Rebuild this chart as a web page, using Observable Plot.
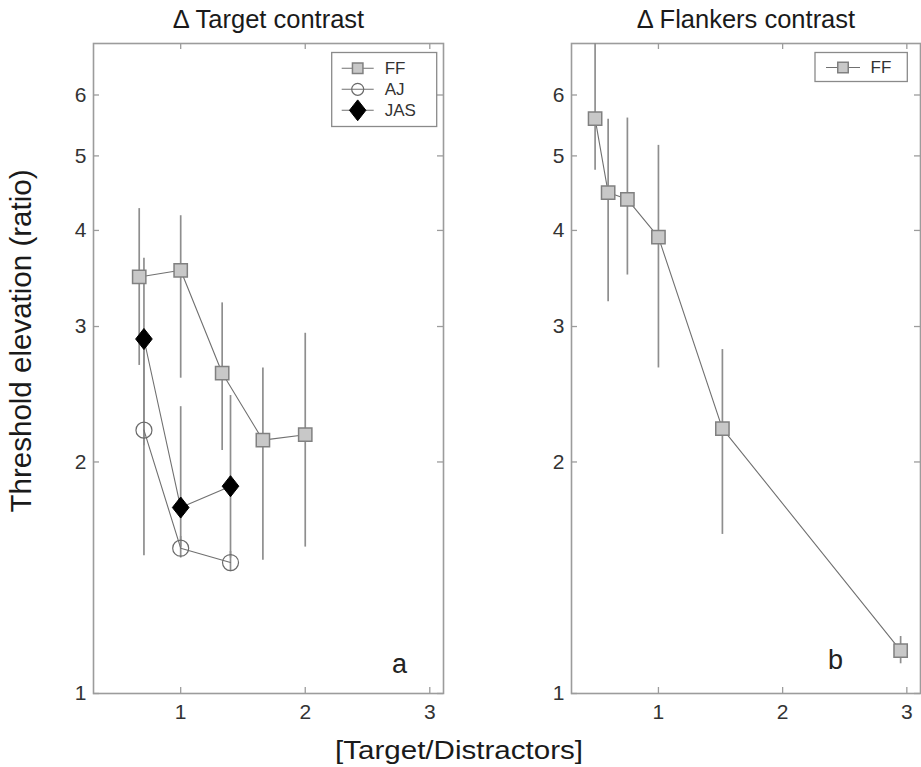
<!DOCTYPE html>
<html><head><meta charset="utf-8">
<script src="https://cdn.jsdelivr.net/npm/d3@7"></script>
<script src="https://cdn.jsdelivr.net/npm/@observablehq/plot@0.6"></script>
<style>
body{margin:0;background:#fff;}
#wrap{position:relative;width:921px;height:767px;font-family:"Liberation Sans",Arial,sans-serif;overflow:hidden;}
#wrap .panel{position:absolute;top:0;}
#wrap svg{overflow:visible;}
#overlay{position:absolute;left:0;top:0;pointer-events:none;}
</style></head><body><div id="wrap"></div>
<script>
// ---- Data ----
const xTicks = [1, 2, 3];
const yTicks = [1, 2, 3, 4, 5, 6];
const xDomain = [0.3, 3.11];
const yDomain = [1, 7];

const titleA = "\u0394 Target contrast";
const titleB = "\u0394 Flankers contrast";
const letterA = "a";
const letterB = "b";
const yLabel = "Threshold elevation (ratio)";
const xLabel = "[Target/Distractors]";

const seriesA = ["FF", "AJ", "JAS"];
const seriesB = ["FF"];

// Panel a
const aFF_x  = [0.667, 1.0, 1.333, 1.66, 2.0];
const aFF_y  = [3.48, 3.55, 2.61, 2.135, 2.17];
const aFF_lo = [2.67, 2.57, 2.07, 1.49, 1.55];
const aFF_hi = [4.27, 4.18, 3.22, 2.65, 2.94];

const aAJ_x  = [0.705, 1.0, 1.40];
const aAJ_y  = [2.20, 1.545, 1.48];
const aAJ_lo = [1.51, 1.50, 1.44];
const aAJ_hi = [2.90, 1.60, 1.53];

const aJAS_x  = [0.705, 1.0, 1.40];
const aJAS_y  = [2.89, 1.745, 1.86];
const aJAS_lo = [2.10, 1.55, 1.50];
const aJAS_hi = [3.68, 2.36, 2.44];

// Panel b
const bFF_x  = [0.49, 0.595, 0.75, 1.0, 1.515, 2.95];
const bFF_y  = [5.59, 4.48, 4.39, 3.92, 2.21, 1.137];
const bFF_lo = [4.79, 3.23, 3.50, 2.65, 1.61, 1.093];
const bFF_hi = [7.0, 5.58, 5.60, 5.16, 2.80, 1.186];

// ---- Build tables ----
function rows(series, xs, ys, los, his) {
  return xs.map((x, i) => ({series, x, y: ys[i], lo: los[i], hi: his[i]}));
}
const dataA = [
  ...rows("FF", aFF_x, aFF_y, aFF_lo, aFF_hi),
  ...rows("AJ", aAJ_x, aAJ_y, aAJ_lo, aAJ_hi),
  ...rows("JAS", aJAS_x, aJAS_y, aJAS_lo, aJAS_hi)
];
const dataB = rows("FF", bFF_x, bFF_y, bFF_lo, bFF_hi);

const diamondSym = {
  draw(context, size) {
    const s = Math.sqrt(size);
    const h = s * 0.85, w = s * 0.67;
    context.moveTo(0, -h); context.lineTo(w, 0); context.lineTo(0, h); context.lineTo(-w, 0); context.closePath();
  }
};
const styles = {
  FF:  {symbol: "square", fill: "#c8c8c8", stroke: "#808080", strokeWidth: 1.5, r: 7.5},
  AJ:  {symbol: "circle", fill: "none", stroke: "#6a6a6a", strokeWidth: 1.2, r: 8},
  JAS: {symbol: diamondSym, fill: "#000", stroke: "#000", strokeWidth: 1, r: 7}
};

const frameColor = "#9c9c9c";
const font = "'Liberation Sans', Arial, sans-serif";

function panel({data, names, title, letter, width, mL, mR, letterDx, letterDy}) {
  const height = 767, mT = 43, mB = 74;
  const fw = width - mL - mR, fh = height - mT - mB;
  return Plot.plot({
    width, height, marginLeft: mL, marginRight: mR, marginTop: mT, marginBottom: mB,
    style: {fontFamily: font, background: "transparent", overflow: "visible"},
    x: {domain: xDomain},
    y: {type: "log", domain: yDomain},
    marks: [
      Plot.frame({stroke: frameColor, strokeWidth: 1.6}),
      Plot.tickX(xTicks, {x: d => d, insetTop: fh - 6, stroke: frameColor, strokeWidth: 1.3}),
      Plot.tickX(xTicks, {x: d => d, insetBottom: fh - 6, stroke: frameColor, strokeWidth: 1.3}),
      Plot.tickY(yTicks, {y: d => d, insetRight: fw - 6, stroke: frameColor, strokeWidth: 1.3}),
      Plot.tickY(yTicks, {y: d => d, insetLeft: fw - 6, stroke: frameColor, strokeWidth: 1.3}),
      Plot.axisX({ticks: xTicks, tickSize: 0, tickPadding: 11, fontSize: 21, label: null, tickFormat: d => String(d), fill: "#333"}),
      Plot.axisY({ticks: yTicks, tickSize: 0, tickPadding: 7, fontSize: 21, label: null, tickFormat: d => String(d), fill: "#333"}),
      Plot.ruleX(data, {x: "x", y1: "lo", y2: "hi", stroke: "#8e8e8e", strokeWidth: 1.7}),
      Plot.line(data, {x: "x", y: "y", z: "series", stroke: "#707070", strokeWidth: 1.1}),
      ...names.map(n => Plot.dot(data.filter(d => d.series === n), {x: "x", y: "y", ...styles[n]})),
      Plot.text([title], {text: d => d, frameAnchor: "top", dy: -24, fontSize: 25.5, fill: "#1a1a1a", textAnchor: "middle", lineAnchor: "middle"}),
      Plot.text([letter], {text: d => d, frameAnchor: "bottom-right", dx: letterDx, dy: letterDy, fontSize: 27, fill: "#222", textAnchor: "middle", lineAnchor: "middle"})
    ]
  });
}

const wrap = document.getElementById("wrap");
const pA = panel({data: dataA, names: seriesA, title: titleA, letter: letterA, width: 460, mL: 93, mR: 17, letterDx: -44, letterDy: -29});
pA.classList.add("panel"); pA.style.left = "0px";
wrap.appendChild(pA);
const pB = panel({data: dataB, names: seriesB, title: titleB, letter: letterB, width: 461, mL: 111, mR: 1, letterDx: -85, letterDy: -33});
pB.classList.add("panel"); pB.style.left = "460px";
wrap.appendChild(pB);

// ---- Overlay: axis labels and legends ----
const ov = d3.select(wrap).append("svg").attr("id", "overlay").attr("width", 921).attr("height", 767)
  .style("font-family", font);

ov.append("text").attr("transform", "translate(21,341) rotate(-90)")
  .attr("text-anchor", "middle").attr("dominant-baseline", "central")
  .attr("font-size", 29).attr("fill", "#1a1a1a")
  .attr("textLength", 343).attr("lengthAdjust", "spacingAndGlyphs").text(yLabel);
ov.append("text").attr("x", 459).attr("y", 759).attr("text-anchor", "middle")
  .attr("font-size", 26.5).attr("fill", "#1a1a1a")
  .attr("textLength", 248).attr("lengthAdjust", "spacingAndGlyphs").text(xLabel);

function legend(names, left, top, w, lineX0, lineX1, textX) {
  const g = ov.append("g").attr("transform", `translate(${left},${top})`);
  const h = names.length === 1 ? 29 : 74;
  g.append("rect").attr("x", 0).attr("y", 0).attr("width", w).attr("height", h)
    .attr("fill", "#fff").attr("stroke", "#8a8a8a").attr("stroke-width", 1.3);
  names.forEach((n, i) => {
    const y = names.length === 1 ? 15 : 15.8 + i * 21;
    const st = styles[n];
    g.append("line").attr("x1", lineX0).attr("x2", lineX1).attr("y1", y).attr("y2", y)
      .attr("stroke", "#707070").attr("stroke-width", 1.1);
    const mx = (lineX0 + lineX1) / 2;
    let path;
    if (n === "FF") path = d3.symbol(d3.symbolSquare, 110)();
    else if (n === "AJ") path = d3.symbol(d3.symbolCircle, 113)();
    else path = d3.symbol(diamondSym, 150)();
    g.append("path").attr("d", path).attr("transform", `translate(${mx},${y})`)
      .attr("fill", st.fill).attr("stroke", st.stroke).attr("stroke-width", st.strokeWidth);
    g.append("text").attr("x", textX).attr("y", y).attr("dominant-baseline", "central")
      .attr("font-size", 17).attr("fill", "#333").text(n);
  });
}
legend(seriesA, 331.7, 52.5, 105, 10, 42, 53);
legend(seriesB, 815, 52.5, 92.3, 11, 45, 55.5);
</script></body></html>
